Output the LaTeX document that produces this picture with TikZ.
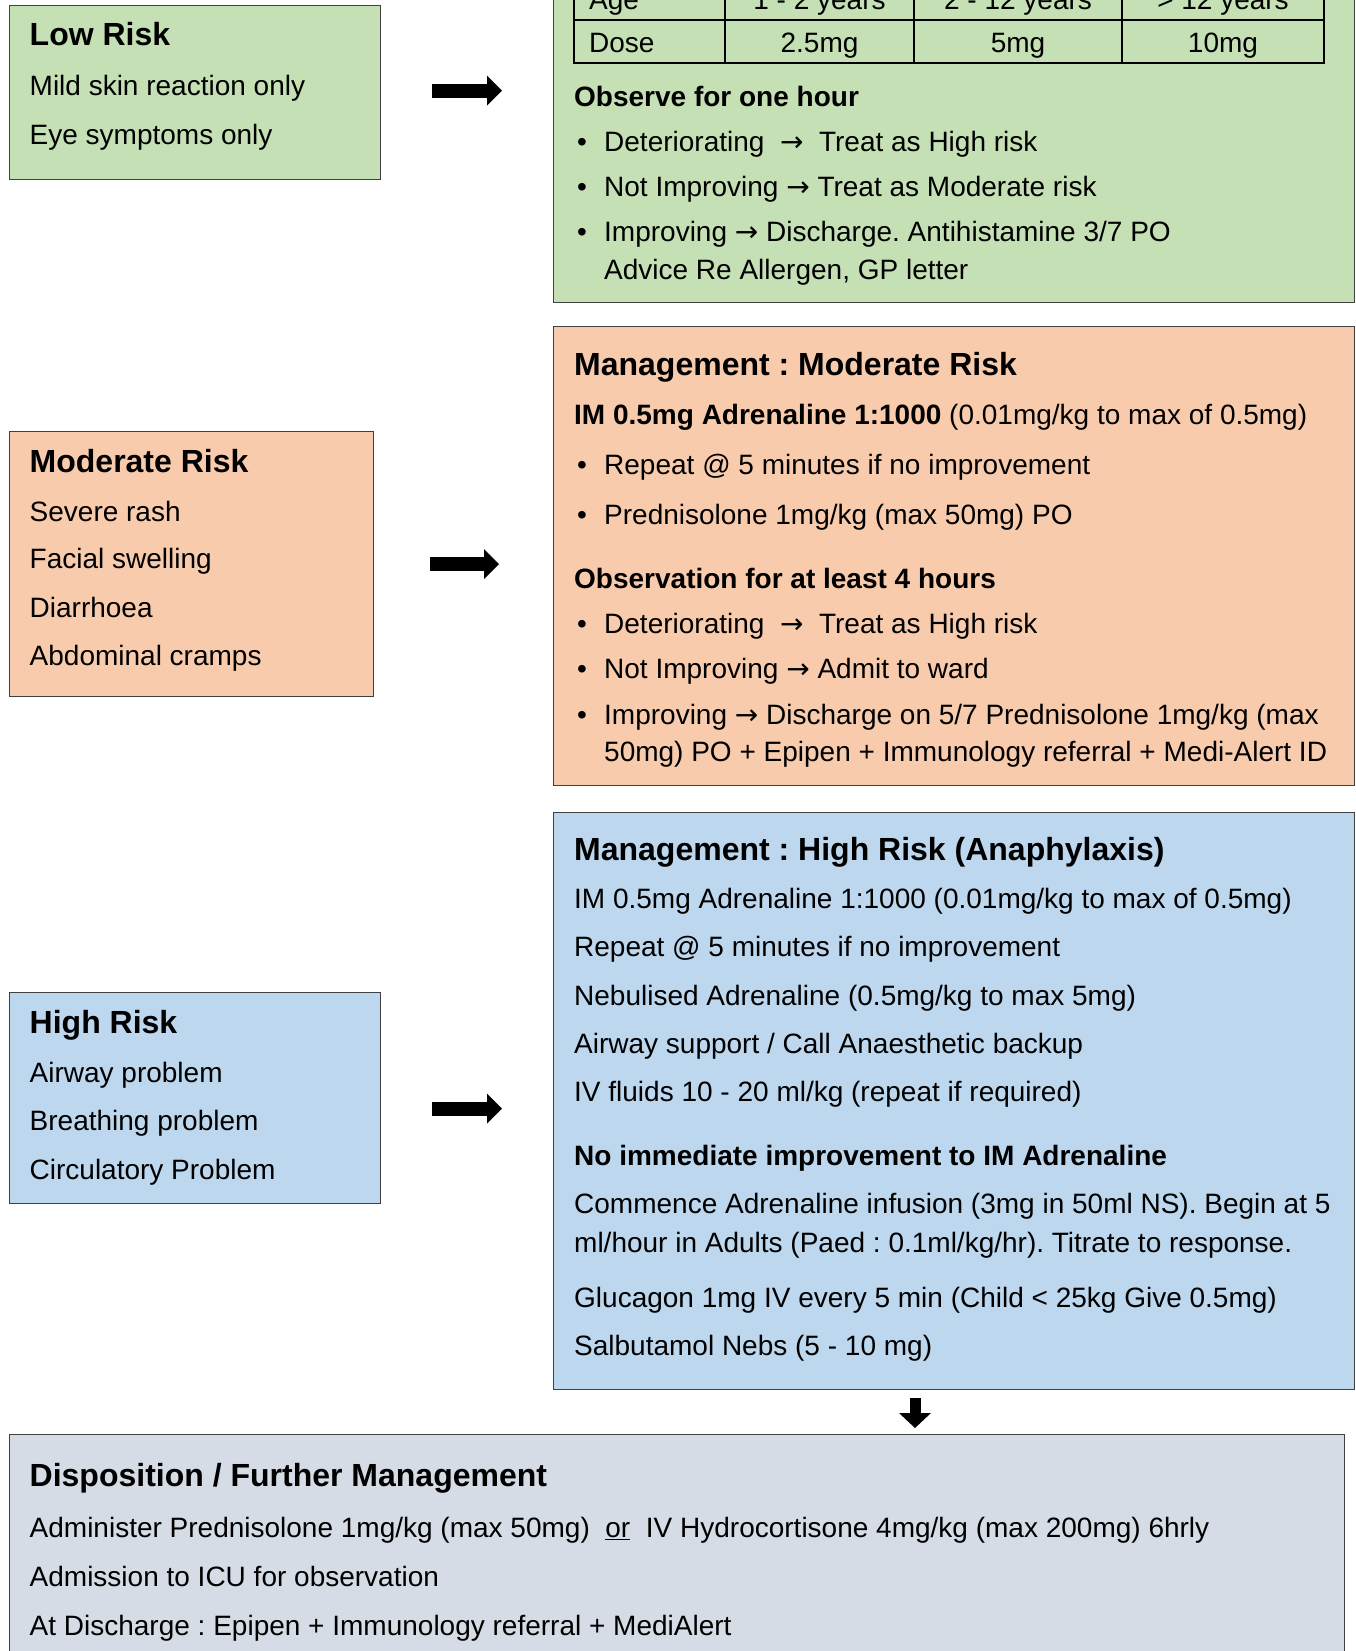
\documentclass[tikz,border=0pt]{standalone}
\usepackage{fontspec}
\setmainfont{Liberation Sans}
\newfontfamily\arrowf{DejaVu Sans}
\usetikzlibrary{arrows.meta}
\definecolor{lowgreen}{HTML}{C5E0B4}
\definecolor{modorange}{HTML}{F8CBAD}
\definecolor{highblue}{HTML}{BDD7EE}
\definecolor{dispgray}{HTML}{D6DCE5}
\frenchspacing
\newcommand\bodyf{\fontsize{28}{34}\selectfont}
\newcommand\headf{\fontsize{32}{38}\selectfont\bfseries}
\newcommand\rarr{{\arrowf →}}
\newcommand\bul{\makebox[27pt][l]{•}}
\tikzset{
  box/.style={draw=black!75, line width=1.3pt, anchor=north west, inner sep=0pt},
  txt/.style={anchor=base west, inner sep=0pt, font=\bodyf},
  btxt/.style={anchor=base west, inner sep=0pt, font=\bodyf\bfseries},
  head/.style={anchor=base west, inner sep=0pt, font=\headf},
  ctxt/.style={anchor=base, inner sep=0pt, font=\bodyf},
  tline/.style={draw=black, line width=2pt},
  rarrow/.style={line width=14pt, -{Triangle[length=15pt,width=30pt,line width=0pt]}},
  darrow/.style={line width=11pt, -{Triangle[length=15pt,width=32pt,line width=0pt]}},
}
\begin{document}
\begin{tikzpicture}[x=1pt,y=-1pt]
\useasboundingbox (0,0) rectangle (1355,1651);
\fill[white] (0,0) rectangle (1355,1651);
\clip (0,0) rectangle (1355,1651);

% ---------- boxes ----------
\node[box, fill=lowgreen, minimum width=371.5pt, minimum height=174pt] (low) at (8.5,5) {};
\node[box, fill=lowgreen, minimum width=801pt, minimum height=342pt] (lowm) at (553,-40) {};
\node[box, fill=modorange, minimum width=363.5pt, minimum height=265pt] (mod) at (9,431) {};
\node[box, fill=modorange, minimum width=801pt, minimum height=459pt] (modm) at (553,326) {};
\node[box, fill=highblue, minimum width=371pt, minimum height=211pt] (high) at (9,992) {};
\node[box, fill=highblue, minimum width=801pt, minimum height=577pt] (highm) at (553,812) {};
\node[box, fill=dispgray, minimum width=1335pt, minimum height=260pt] (disp) at (9,1434) {};

% ---------- arrows ----------
\path (low.east) ++(0,-2) coordinate (a1);
\draw[rarrow, shorten <=51pt, shorten >=51pt] (a1) -- (a1 -| lowm.west);
\path (mod.east) coordinate (a2);
\draw[rarrow, shorten <=56pt, shorten >=54pt] (a2) -- (a2 -| modm.west);
\path (high.east) ++(0,10.5) coordinate (a3);
\draw[rarrow, shorten <=51pt, shorten >=51pt] (a3) -- (a3 -| highm.west);
\path (highm.south west) ++(362,0) coordinate (a4);
\draw[darrow, shorten <=8pt, shorten >=6pt] (a4) -- (a4 |- disp.north);

% ---------- low risk ----------
\node[head] (lowt) at (29.5,46) {Low Risk};
\node[txt] (low1) at (29.5,95.5) {Mild skin reaction only};
\node[txt] (low2) at (29.5,144) {Eye symptoms only};

% ---------- table ----------
\draw[tline] (574,-30) -- (574,63) (725,-30) -- (725,63) (914,-30) -- (914,63)
  (1122,-30) -- (1122,63) (1324,-30) -- (1324,63)
  (573,-23) -- (1325,-23) (573,20) -- (1325,20) (573,63) -- (1325,63);
\node[txt] (tage) at (589,10) {Age};
\node[ctxt] (ta1) at (819.5,10) {1 - 2 years};
\node[ctxt] (ta2) at (1018,10) {2 - 12 years};
\node[ctxt] (ta3) at (1223,10) {> 12 years};
\node[txt] (tdose) at (589,53) {Dose};
\node[ctxt] (td1) at (819.5,53) {2.5mg};
\node[ctxt] (td2) at (1018,53) {5mg};
\node[ctxt] (td3) at (1223,53) {10mg};

% ---------- low management ----------
\node[btxt] (lm1) at (574,107) {Observe for one hour};
\node[txt] (lm2) at (577,151.5) {\bul Deteriorating\ \ \rarr\ \ Treat as High risk};
\node[txt] (lm3) at (577,196.5) {\bul Not Improving \rarr\ Treat as Moderate risk};
\node[txt] (lm4) at (577,241.5) {\bul Improving \rarr\ Discharge. Antihistamine 3/7 PO};
\node[txt] (lm5) at (604,279.5) {Advice Re Allergen, GP letter};

% ---------- moderate risk ----------
\node[head] (modt) at (29.5,472) {Moderate Risk};
\node[txt] (mod1) at (29.5,521) {Severe rash};
\node[txt] (mod2) at (29.5,568) {Facial swelling};
\node[txt] (mod3) at (29.5,617) {Diarrhoea};
\node[txt] (mod4) at (29.5,665) {Abdominal cramps};

% ---------- moderate management ----------
\node[head] (mmt) at (574,375) {Management : Moderate Risk};
\node[txt] (mm1) at (574,424) {\textbf{IM 0.5mg Adrenaline 1:1000} (0.01mg/kg to max of 0.5mg)};
\node[txt] (mm2) at (577,474) {\bul Repeat @ 5 minutes if no improvement};
\node[txt] (mm3) at (577,524) {\bul Prednisolone 1mg/kg (max 50mg) PO};
\node[btxt] (mm4) at (574,588.5) {Observation for at least 4 hours};
\node[txt] (mm5) at (577,633.5) {\bul Deteriorating\ \ \rarr\ \ Treat as High risk};
\node[txt] (mm6) at (577,678.5) {\bul Not Improving \rarr\ Admit to ward};
\node[txt] (mm7) at (577,724) {\bul Improving \rarr\ Discharge on 5/7 Prednisolone 1mg/kg (max};
\node[txt] (mm8) at (604,761) {50mg) PO + Epipen + Immunology referral + Medi-Alert ID};

% ---------- high risk ----------
\node[head] (hight) at (29.5,1033) {High Risk};
\node[txt] (high1) at (29.5,1082) {Airway problem};
\node[txt] (high2) at (29.5,1130) {Breathing problem};
\node[txt] (high3) at (29.5,1179) {Circulatory Problem};

% ---------- high management ----------
\node[head] (hmt) at (574,860) {Management : High Risk (Anaphylaxis)};
\node[txt] (hm1) at (574,908.5) {IM 0.5mg Adrenaline 1:1000 (0.01mg/kg to max of 0.5mg)};
\node[txt] (hm2) at (574,956.5) {Repeat @ 5 minutes if no improvement};
\node[txt] (hm3) at (574,1005.5) {Nebulised Adrenaline (0.5mg/kg to max 5mg)};
\node[txt] (hm4) at (574,1053.5) {Airway support / Call Anaesthetic backup};
\node[txt] (hm5) at (574,1101.5) {IV fluids 10 - 20 ml/kg (repeat if required)};
\node[btxt] (hm6) at (574,1165.5) {No immediate improvement to IM Adrenaline};
\node[txt] (hm7) at (574,1213.5) {Commence Adrenaline infusion (3mg in 50ml NS). Begin at 5};
\node[txt] (hm8) at (574,1252.5) {ml/hour in Adults (Paed : 0.1ml/kg/hr). Titrate to response.};
\node[txt] (hm9) at (574,1307.5) {Glucagon 1mg IV every 5 min (Child < 25kg Give 0.5mg)};
\node[txt] (hm10) at (574,1355.5) {Salbutamol Nebs (5 - 10 mg)};

% ---------- disposition ----------
\node[head] (dt) at (29.5,1486.5) {Disposition / Further Management};
\node[txt] (d1) at (29.5,1537.5) {Administer Prednisolone 1mg/kg (max 50mg)\ \ \underline{or}\ \ IV Hydrocortisone 4mg/kg (max 200mg) 6hrly};
\node[txt] (d2) at (29.5,1586.5) {Admission to ICU for observation};
\node[txt] (d3) at (29.5,1635.5) {At Discharge : Epipen + Immunology referral + MediAlert};
\end{tikzpicture}
\end{document}
